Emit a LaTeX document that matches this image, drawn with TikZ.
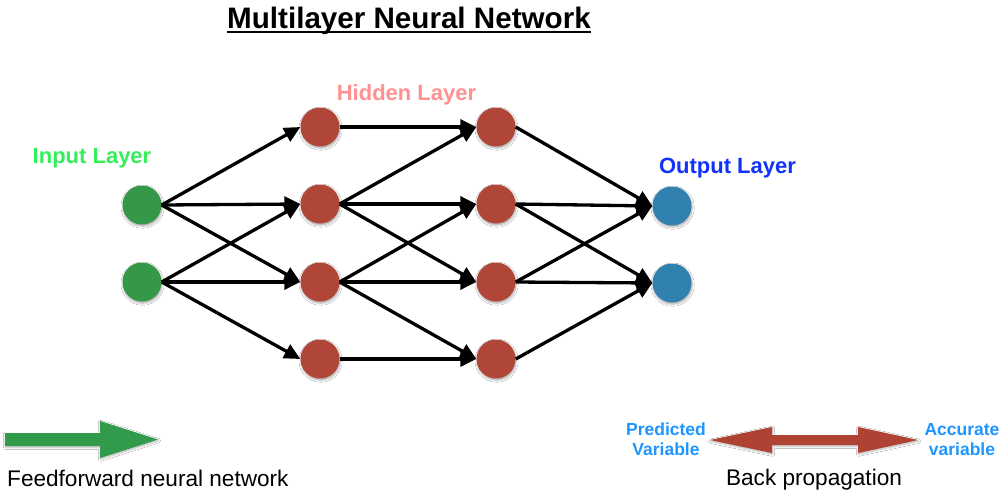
\documentclass[tikz,border=0pt]{standalone}
\usepackage{fontspec}
\setmainfont{Liberation Sans}
\usetikzlibrary{arrows.meta,shadows.blur}
\definecolor{ingreen}{RGB}{52,152,72}
\definecolor{hidred}{RGB}{176,70,55}
\definecolor{outblue}{RGB}{48,128,176}
\definecolor{lblgreen}{RGB}{52,238,90}
\definecolor{lblpink}{RGB}{255,145,145}
\definecolor{lblblue}{RGB}{18,50,250}
\definecolor{lblsky}{RGB}{30,150,255}
\definecolor{arrgreen}{RGB}{50,155,75}
\definecolor{arrred}{RGB}{176,66,52}
\tikzset{
  neuron/.style={circle,minimum size=39pt,inner sep=0pt,draw=none,
    blur shadow={shadow blur steps=6,shadow xshift=0.6pt,shadow yshift=-1.6pt,shadow opacity=35}},
  inneuron/.style={neuron,fill=ingreen},
  hidneuron/.style={neuron,fill=hidred},
  outneuron/.style={neuron,fill=outblue},
  link/.style={line width=3.3pt,-{Triangle[length=16pt,width=15pt]}},
  layerlabel/.style={anchor=base,inner sep=0pt,font=\fontsize{22}{26}\selectfont\bfseries},
  plainlabel/.style={anchor=base,inner sep=0pt,font=\fontsize{22.6}{26}\selectfont},
  varlabel/.style={anchor=base,inner sep=0pt,align=center,font=\fontsize{17.5}{19.5}\selectfont\bfseries,text=lblsky},
  bigarrow/.style={draw=none,blur shadow={shadow blur steps=5,shadow xshift=0.5pt,shadow yshift=-1.2pt,shadow opacity=30}}
}
\begin{document}
\begin{tikzpicture}[x=1pt,y=-1pt]
\useasboundingbox[fill=white] (0,0) rectangle (1006,496);
% title
\node[anchor=base,inner sep=0pt,font=\fontsize{29.6}{34}\selectfont\bfseries] (title) at (409,28) {Multilayer Neural Network};
\draw[line width=1.6pt] ([yshift=-4.2pt]title.base west) -- ([yshift=-4.2pt]title.base east);
% layer labels
\node[layerlabel,text=lblpink] (hidlbl) at (406.5,100) {Hidden Layer};
\node[layerlabel,text=lblgreen] (inlbl) at (92,163) {Input Layer};
\node[layerlabel,text=lblblue] (outlbl) at (727.5,173) {Output Layer};
% neurons
\node[inneuron] (i1) at (142,205) {};
\node[inneuron] (i2) at (142,282) {};
\node[hidneuron] (h1) at (320,127) {};
\node[hidneuron] (h2) at (320,204) {};
\node[hidneuron] (h3) at (320,282) {};
\node[hidneuron] (h4) at (320,359) {};
\node[hidneuron] (g1) at (496,127) {};
\node[hidneuron] (g2) at (496,204) {};
\node[hidneuron] (g3) at (496,282) {};
\node[hidneuron] (g4) at (496,359) {};
\node[outneuron] (o1) at (672,206) {};
\node[outneuron] (o2) at (672,283) {};
% links input -> hidden 1
\foreach \a/\b in {i1/h1,i1/h2,i1/h3,i2/h2,i2/h3,i2/h4}
  \draw[link] (\a.east) -- (\b.west);
% hidden 1 -> hidden 2
\foreach \a/\b in {h1/g1,h2/g1,h2/g2,h2/g3,h3/g2,h3/g3,h3/g4,h4/g4}
  \draw[link] (\a.east) -- (\b.west);
% hidden 2 -> output
\foreach \a/\b in {g1/o1,g2/o1,g2/o2,g3/o1,g3/o2,g4/o2}
  \draw[link] (\a.east) -- (\b.west);
% feedforward arrow
\fill[arrgreen,bigarrow] (5,433) -- (100,433) -- (100,421) -- (158,439.5) -- (100,458) -- (100,446) -- (5,446) -- cycle;
\node[plainlabel,anchor=base west] (fflbl) at (7,486) {Feedforward neural network};
% back propagation arrow
\fill[arrred,bigarrow] (710,440) -- (772,427) -- (772,435) -- (858,435) -- (858,427) -- (918,440) -- (858,453) -- (858,445) -- (772,445) -- (772,453) -- cycle;
\node[varlabel] (pred) at (666,455) {Predicted\\Variable};
\node[varlabel] (acc) at (962,455) {Accurate\\variable};
\node[plainlabel] (bplbl) at (814,485) {Back propagation};
\end{tikzpicture}
\end{document}
